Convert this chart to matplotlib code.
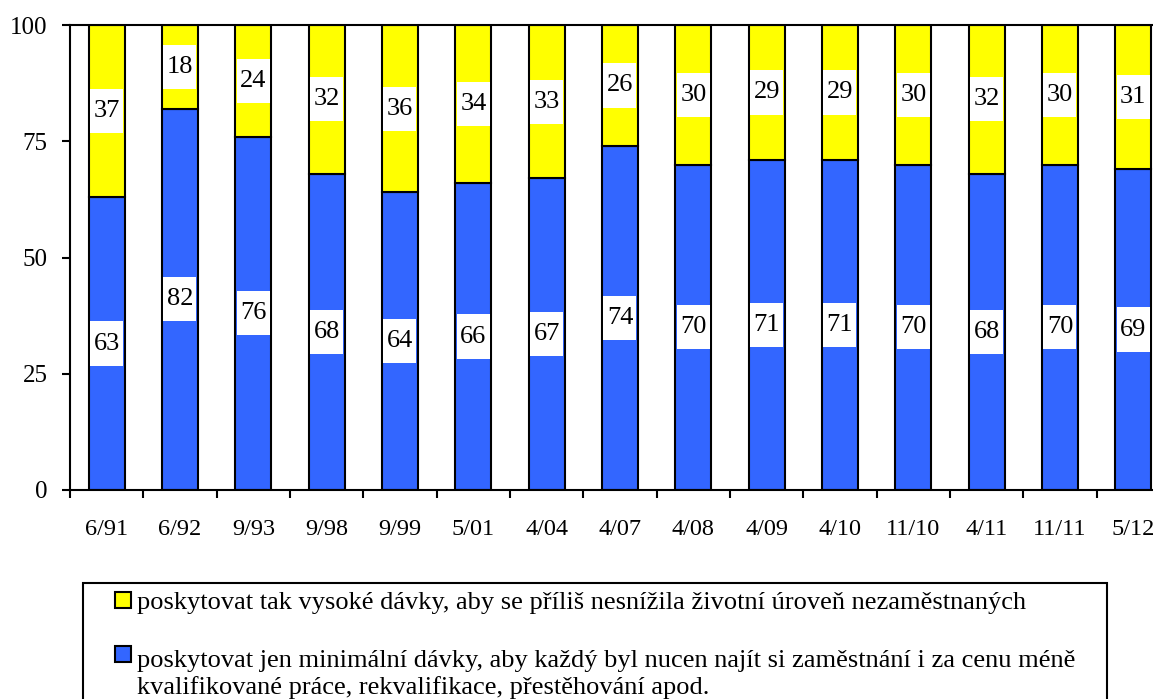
import matplotlib
matplotlib.use('Agg')
import matplotlib.pyplot as plt
from matplotlib.patches import Rectangle

plt.rcParams['font.family'] = ['Liberation Serif', 'DejaVu Serif']

# ── data ────────────────────────────────────────────────────
periods = ['6/91', '6/92', '9/93', '9/98', '9/99', '5/01', '4/04', '4/07',
           '4/08', '4/09', '4/10', '11/10', '4/11', '11/11', '5/12']
minimal = [63, 82, 76, 68, 64, 66, 67, 74, 70, 71, 71, 70, 68, 70, 69]
high    = [37, 18, 24, 32, 36, 34, 33, 26, 30, 29, 29, 30, 32, 30, 31]

label_high = ('poskytovat tak vysoké dávky, aby se příliš nesnížila '
              'životní úroveň nezaměstnaných')
label_min = ('poskytovat jen minimální dávky, aby každý byl nucen najít si '
             'zaměstnání i za cenu méně\n'
             'kvalifikované práce, rekvalifikace, přestěhování apod.')

BLUE = '#3366FF'
YELLOW = '#FFFF00'

W, H = 1153, 699
fig = plt.figure(figsize=(W / 100, H / 100), dpi=100)
ax = fig.add_axes([70 / W, 1 - 490 / H, 1100 / W, 465 / H])

x = list(range(len(periods)))
b1 = ax.bar(x, minimal, width=0.49, color=BLUE, edgecolor='black',
            linewidth=1.5, zorder=2)
b2 = ax.bar(x, high, width=0.49, bottom=minimal, color=YELLOW,
            edgecolor='black', linewidth=1.5, zorder=2)

# value labels on white patches (patch ~ 0.45 wide, ~9.5 units tall)
bw, bh = 0.45, 9.5
for i in x:
    for yc, v in [(minimal[i] / 2, minimal[i]),
                  (minimal[i] + high[i] / 2, high[i])]:
        ax.add_patch(Rectangle((i - bw / 2, yc - bh / 2), bw, bh,
                               facecolor='white', edgecolor='none', zorder=3))
        ax.text(i, yc, str(v), ha='center', va='center', fontsize=19,
                zorder=4)

ax.set_xlim(-0.5, len(periods) - 0.5)
ax.set_ylim(0, 100)
ax.set_yticks([0, 25, 50, 75, 100])
ax.set_xticks(x)
ax.set_xticklabels(periods)
ax.set_xticks([i - 0.5 for i in range(len(periods) + 1)], minor=True)
ax.tick_params(axis='x', which='major', length=0, pad=21, labelsize=17.5)
ax.tick_params(axis='x', which='minor', length=6, width=1.5, direction='out')
ax.tick_params(axis='y', length=6, width=1.5, direction='out', pad=10,
               labelsize=18)
for s in ax.spines.values():
    s.set_linewidth(1.5)

# ── legend box (runs off the bottom of the picture) ─────────
fig.patches.append(Rectangle((83 / W, -0.2), (1107 - 83) / W,
                             1.2 - 583 / H, transform=fig.transFigure,
                             facecolor='none', edgecolor='black',
                             linewidth=1.5, clip_on=False))
sq = 16
# (square centre, baseline of last text line) in pixels from the top
for y_sq, y_base, col, txt in [(600, 609, YELLOW, label_high),
                               (654, 694, BLUE, label_min)]:
    fig.patches.append(Rectangle((115 / W, 1 - (y_sq + sq / 2) / H),
                                 sq / W, sq / H, transform=fig.transFigure,
                                 facecolor=col, edgecolor='black',
                                 linewidth=1.5))
    fig.text(137 / W, 1 - y_base / H, txt, ha='left', va='baseline',
             fontsize=19, linespacing=1.25)

fig.savefig('out.png', dpi=100)
